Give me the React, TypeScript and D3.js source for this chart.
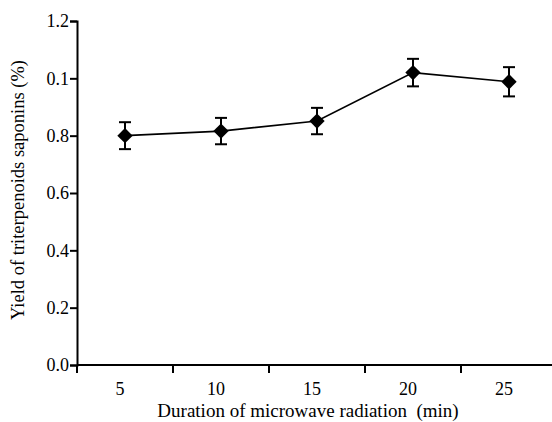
import React, { useEffect, useRef } from "react";
import * as d3 from "d3";

// durations (min)
const durations = ["5", "10", "15", "20", "25"];
// mean yield and error
const yields = [0.8, 0.816, 0.851, 1.02, 0.988];
const errors = [0.047, 0.046, 0.046, 0.048, 0.051];
// tick values and labels as printed in the source figure
const yTicks = [0, 0.2, 0.4, 0.6, 0.8, 1.0, 1.2];
const yTickLabels = ["0.0", "0.2", "0.4", "0.6", "0.8", "0.1", "1.2"];

const FONT = "Liberation Serif";

export default function App() {
  const ref = useRef<SVGSVGElement>(null);

  useEffect(() => {
    const svg = d3.select(ref.current);
    svg.selectAll("*").remove();

    const width = 552;
    const height = 422;
    const margin = { top: 21, right: 0, bottom: 57, left: 77 };

    const x = d3
      .scaleBand()
      .domain(durations)
      .range([margin.left, margin.left + 96 * durations.length]);
    const y = d3.scaleLinear().domain([0, 1.2]).range([height - margin.bottom, margin.top]);

    // y axis
    const yAxis = svg
      .append("g")
      .attr("transform", `translate(${margin.left},0)`)
      .call(
        d3
          .axisLeft(y)
          .tickValues(yTicks)
          .tickFormat((d, i) => yTickLabels[i])
          .tickSize(7)
          .tickPadding(1)
      )
      .attr("font-family", FONT)
      .attr("font-size", 18);
    yAxis.select(".domain").attr("stroke-width", 2);
    yAxis.selectAll(".tick line").attr("stroke-width", 2);
    yAxis.selectAll(".tick text").attr("fill", "#000");

    // x axis, ticks at band boundaries
    const xAxisG = svg
      .append("g")
      .attr("transform", `translate(0,${y(0)})`)
      .attr("font-family", FONT)
      .attr("font-size", 18);
    xAxisG
      .append("line")
      .attr("x1", margin.left)
      .attr("x2", width)
      .attr("stroke", "#000")
      .attr("stroke-width", 2);
    xAxisG
      .selectAll("line.tk")
      .data(durations)
      .join("line")
      .attr("class", "tk")
      .attr("x1", (d) => x(d)!)
      .attr("x2", (d) => x(d)!)
      .attr("y1", 0)
      .attr("y2", 8)
      .attr("stroke", "#000")
      .attr("stroke-width", 2);
    xAxisG
      .selectAll("text")
      .data(durations)
      .join("text")
      .attr("x", (d) => x(d)! + x.bandwidth() / 2 - 5)
      .attr("y", 30)
      .attr("text-anchor", "middle")
      .text((d) => d);

    // axis titles
    svg
      .append("text")
      .attr("x", 308)
      .attr("y", 417)
      .attr("text-anchor", "middle")
      .attr("font-family", FONT)
      .attr("font-size", 19)
      .style("white-space", "pre")
      .text("Duration of microwave radiation  (min)");
    svg
      .append("text")
      .attr("transform", "translate(24,190) rotate(-90)")
      .attr("text-anchor", "middle")
      .attr("font-family", FONT)
      .attr("font-size", 18.5)
      .text("Yield of triterpenoids saponins (%)");

    const cx = (i: number) => x(durations[i])! + x.bandwidth() / 2;

    // line
    const line = d3
      .line<number>()
      .x((d, i) => cx(i))
      .y((d) => y(d));
    svg
      .append("path")
      .datum(yields)
      .attr("fill", "none")
      .attr("stroke", "#000")
      .attr("stroke-width", 1.6)
      .attr("d", line);

    // error bars
    const eb = svg.append("g").attr("stroke", "#000").attr("stroke-width", 2);
    yields.forEach((v, i) => {
      const top = y(v + errors[i]);
      const bot = y(v - errors[i]);
      eb.append("line").attr("x1", cx(i)).attr("x2", cx(i)).attr("y1", top).attr("y2", bot);
      eb.append("line").attr("x1", cx(i) - 6).attr("x2", cx(i) + 6).attr("y1", top).attr("y2", top);
      eb.append("line").attr("x1", cx(i) - 6).attr("x2", cx(i) + 6).attr("y1", bot).attr("y2", bot);
    });

    // diamonds
    const diamond = d3.symbol().type(d3.symbolDiamond2).size(150);
    svg
      .selectAll("path.pt")
      .data(yields)
      .join("path")
      .attr("class", "pt")
      .attr("d", diamond)
      .attr("transform", (d, i) => `translate(${cx(i)},${y(d)})`)
      .attr("fill", "#000");
  }, []);

  return (
    <svg
      ref={ref}
      width={552}
      height={422}
      style={{ position: "absolute", left: 0, top: 0, background: "#fff" }}
    />
  );
}
